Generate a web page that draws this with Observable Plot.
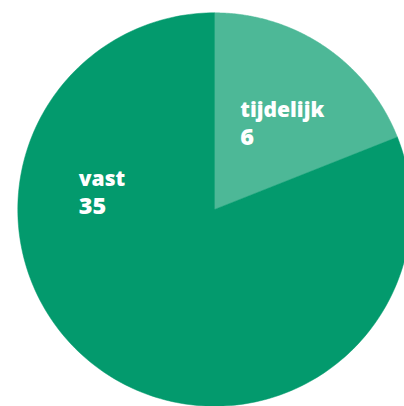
<!DOCTYPE html>
<html>
<head>
<meta charset="utf-8">
<script src="https://cdn.jsdelivr.net/npm/d3@7"></script>
<script src="https://cdn.jsdelivr.net/npm/@observablehq/plot@0.6"></script>
<style>
  html, body { margin: 0; padding: 0; background: #ffffff; overflow: hidden; }
  #chart svg { display: block; }
</style>
</head>
<body>
<div id="chart"></div>
<script>
// ---- data ----
const categories = ["tijdelijk", "vast"];
const counts = [6, 35];              // numbers printed in the labels
const shares = [19, 81];             // share of the circle (%)
const colors = ["#4db897", "#039a6d"];

// ---- layout (not data) ----
const W = 404, H = 406;
const cx = 214, cy = 209, R = 196.7;   // pixel centre / radius
// label anchors in polar form (angle in degrees clockwise from 12 o'clock, radius fraction)
const labelLayout = {
  tijdelijk: {angle: 15.5, r: 0.49, gap: 28},
  vast: {angle: 279.7, r: 0.70, gap: 28}
};

// build slice polygons with d3.pie
const pie = d3.pie().sort(null).value((d, i) => shares[i])(categories);
const slices = [];
pie.forEach((p, i) => {
  const n = 240;
  slices.push({cat: categories[i], x: 0, y: 0});
  for (let k = 0; k <= n; k++) {
    const a = p.startAngle + (p.endAngle - p.startAngle) * k / n;
    slices.push({cat: categories[i], x: Math.sin(a), y: Math.cos(a)});
  }
  slices.push({cat: categories[i], x: 0, y: 0});
});

const labels = categories.map((c, i) => {
  const L = labelLayout[c];
  const a = L.angle * Math.PI / 180;
  return {cat: c, value: counts[i], x: L.r * Math.sin(a), y: L.r * Math.cos(a), gap: L.gap};
});

const chart = Plot.plot({
  width: W,
  height: H,
  margin: 0,
  x: {domain: [-cx / R, (W - cx) / R], axis: null},
  y: {domain: [-(H - cy) / R, cy / R], axis: null},
  color: {domain: categories, range: colors},
  style: {background: "#ffffff"},
  marks: [
    Plot.line(slices, {x: "x", y: "y", z: "cat", fill: "cat", stroke: "cat", strokeWidth: 0.5, curve: "linear"}),
    Plot.text(labels, {
      x: "x", y: "y", text: "cat", textAnchor: "start", lineAnchor: "bottom",
      fill: "#ffffff", fontSize: 21, fontWeight: 800,
      fontFamily: "'Open Sans', sans-serif", style: "letter-spacing:0.6px"
    }),
    ...labels.map(l => Plot.text([l], {
      x: "x", y: "y", text: d => String(d.value), textAnchor: "start", lineAnchor: "bottom",
      dy: l.gap, fill: "#ffffff", fontSize: 23.5, fontWeight: 800,
      fontFamily: "'Open Sans', sans-serif"
    }))
  ]
});
document.getElementById("chart").append(chart);
</script>
</body>
</html>
